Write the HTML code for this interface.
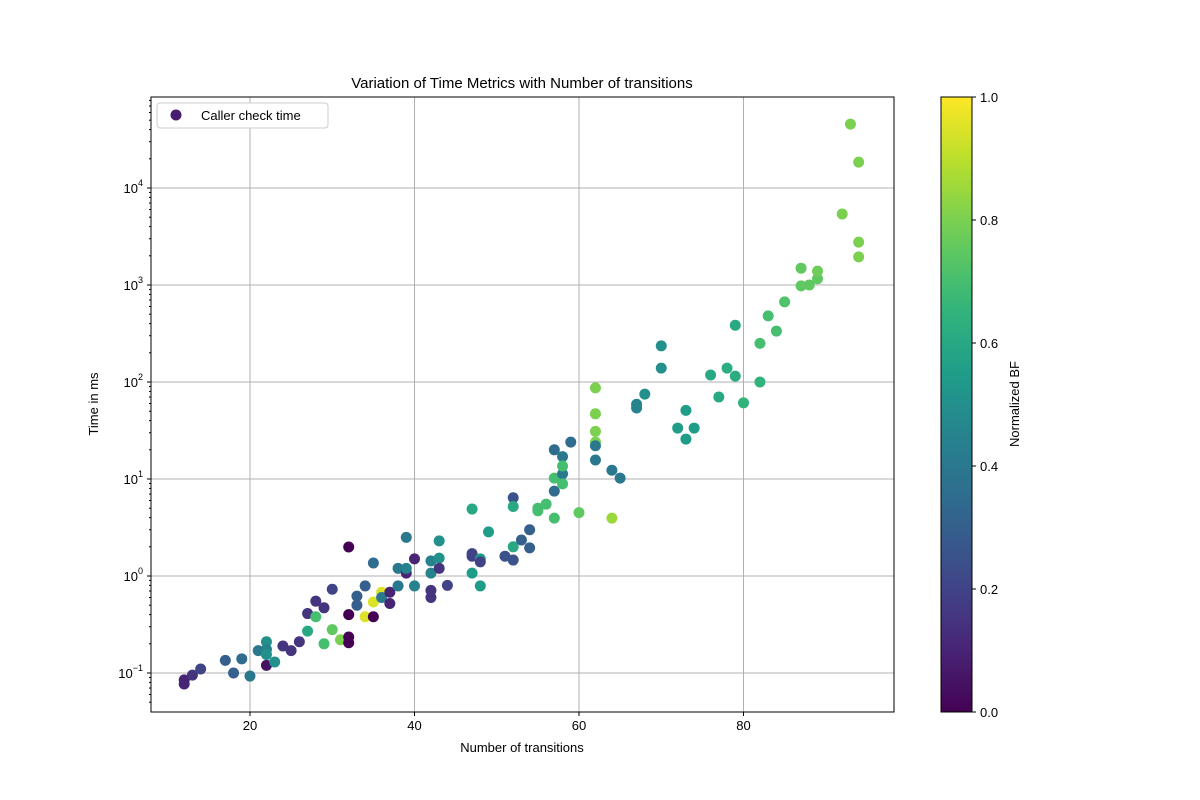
<!DOCTYPE html>
<html><head><meta charset="utf-8"><style>
body{margin:0;background:#fff;}
svg{display:block;font-family:"Liberation Sans","DejaVu Sans",sans-serif;}
</style></head><body>
<svg id="chart" width="1200" height="800"></svg>
<script>
const xs=[12,12,13,14,17,18,19,20,21,22,22,22,22,23,24,25,26,27,27,28,28,29,29,30,30,31,32,32,32,32,32,33,33,34,34,35,35,35,36,36,37,37,38,38,39,39,39,40,40,42,42,42,42,43,43,43,44,
47,47,47,47,48,48,48,49,51,52,52,52,52,53,54,54,55,55,56,57,57,57,57,58,58,58,58,59,60,62,62,62,62,62,62,64,64,65,
67,67,68,70,70,72,73,73,74,76,77,78,79,79,80,82,82,83,84,85,87,87,88,89,89,92,93,94,94,94];
const ys=[0.077,0.085,0.095,0.11,0.135,0.10,0.14,0.093,0.17,0.21,0.175,0.155,0.12,0.13,0.19,0.17,0.21,0.27,0.41,0.55,0.38,0.47,0.2,0.73,0.28,0.22,1.99,0.40,0.40,0.235,0.205,0.62,0.50,0.79,0.38,0.54,0.38,1.36,0.68,0.6,0.68,0.52,1.2,0.79,2.5,1.07,1.2,0.79,1.5,1.43,1.07,0.71,0.6,2.3,1.53,1.2,0.8,
4.9,1.6,1.7,1.07,1.5,1.4,0.79,2.85,1.6,6.4,5.2,2.0,1.46,2.35,3.0,1.95,5.0,4.7,5.5,20,7.5,10.2,3.95,17,11.3,13.6,8.9,24,4.5,87,47,31,24,22,15.7,12.3,3.95,10.2,
59,54,75,236,139,33.5,51,25.8,33.5,118,70,139,385,115,61,250,100,480,335,670,980,1490,1000,1160,1390,5400,45600,18500,2770,1950];
const cs=[0.1,0.1,0.15,0.2,0.3,0.3,0.35,0.4,0.4,0.5,0.45,0.5,0.05,0.5,0.15,0.15,0.15,0.6,0.15,0.15,0.7,0.15,0.7,0.2,0.75,0.8,0.0,0.8,0.0,0.0,0.0,0.3,0.3,0.3,0.95,0.95,0.0,0.35,0.95,0.4,0.1,0.1,0.4,0.4,0.4,0.1,0.45,0.45,0.1,0.45,0.45,0.15,0.15,0.5,0.5,0.15,0.2,
0.6,0.2,0.2,0.55,0.55,0.2,0.55,0.55,0.25,0.25,0.6,0.6,0.25,0.3,0.3,0.3,0.7,0.7,0.7,0.35,0.35,0.7,0.7,0.4,0.4,0.7,0.7,0.35,0.75,0.8,0.8,0.8,0.8,0.4,0.4,0.4,0.85,0.4,
0.45,0.45,0.5,0.5,0.5,0.55,0.55,0.55,0.55,0.6,0.6,0.62,0.6,0.62,0.65,0.7,0.65,0.7,0.7,0.72,0.75,0.75,0.75,0.75,0.78,0.8,0.8,0.8,0.8,0.8];
const xTicks=[20,40,60,80];
const yTicks=[-1,0,1,2,3,4];
const cTicks=[0,0.2,0.4,0.6,0.8,1.0];

const L=151,R=894,T=97,B=712;
const X=v=>85.5+v*8.225;
const Y=v=>576-97*Math.log10(v);
const vir=[[68,1,84],[72,40,120],[62,74,137],[49,104,142],[38,130,142],[31,158,137],[53,183,121],[109,205,89],[180,222,44],[253,231,37]];
function col(t){t=Math.max(0,Math.min(1,t))*9;const i=Math.min(8,Math.floor(t)),f=t-i;const a=vir[i],b=vir[i+1];return `rgb(${a.map((v,k)=>Math.round(v+(b[k]-v)*f)).join(',')})`;}
const svg=document.getElementById('chart');const NS='http://www.w3.org/2000/svg';
function mk(tag,at,txt){const e=document.createElementNS(NS,tag);for(const k in at)e.setAttribute(k,at[k]);if(txt!=null)e.textContent=txt;svg.appendChild(e);return e;}
let e;
// grid
xTicks.forEach(t=>{e=mk('line',{x1:X(t),x2:X(t),y1:T,y2:B,stroke:'#b0b0b0','stroke-width':1});


e=mk('line',{x1:X(t),x2:X(t),y1:B,y2:B+4,stroke:'#000'});


e=mk('text',{x:X(t),y:B+18,'text-anchor':'middle','font-size':13},String(t));

});
yTicks.forEach(p=>{const y=Y(Math.pow(10,p));e=mk('line',{x1:L,x2:R,y1:y,y2:y,stroke:'#b0b0b0','stroke-width':1});


e=mk('line',{x1:L-4,x2:L,y1:y,y2:y,stroke:'#000'});


const t=mk('text',{x:L-8,y:y+5,'text-anchor':'end','font-size':13});
t.innerHTML='10<tspan dy="-7" font-size="9">'+(p<0?'−'+(-p):p)+'</tspan>';


// minor ticks
for(let m=2;m<10;m++){const yy=Y(m*Math.pow(10,p));if(yy>T&&yy<B){e=mk('line',{x1:L-2,x2:L,y1:yy,y2:yy,stroke:'#000'});

}}});
for(let m=5;m<10;m++){const yy=Y(m*0.01);if(yy<B){e=mk('line',{x1:L-2,x2:L,y1:yy,y2:yy,stroke:'#000'});

}}
// points
xs.forEach((x,i)=>{e=mk('circle',{cx:X(x),cy:Y(ys[i]),r:5.5,fill:col(cs[i])});

});
e=mk('rect',{x:L,y:T,width:R-L,height:B-T,fill:'none',stroke:'#000','stroke-width':1});


// labels
e=mk('text',{x:522,y:88,'text-anchor':'middle','font-size':15},'Variation of Time Metrics with Number of transitions');


e=mk('text',{x:522,y:752,'text-anchor':'middle','font-size':13},'Number of transitions');


e=mk('text',{x:98,y:404,'text-anchor':'middle','font-size':13,transform:'rotate(-90 98 404)'},'Time in ms');


// legend
e=mk('rect',{x:157,y:103,width:171,height:25,rx:3,fill:'#fff',stroke:'#ccc'});


e=mk('circle',{cx:176,cy:115,r:5.5,fill:'#481c6e'});


e=mk('text',{x:201,y:120,'font-size':13},'Caller check time');


// colorbar
const defs=mk('defs',{});const g=document.createElementNS(NS,'linearGradient');g.setAttribute('id','vg');g.setAttribute('x1','0');g.setAttribute('y1','1');g.setAttribute('x2','0');g.setAttribute('y2','0');defs.appendChild(g);
for(let i=0;i<=20;i++){const s=document.createElementNS(NS,'stop');s.setAttribute('offset',i/20);s.setAttribute('stop-color',col(i/20));g.appendChild(s);}
e=mk('rect',{x:941,y:T,width:31,height:B-T,fill:'url(#vg)',stroke:'#000','stroke-width':1});


cTicks.forEach(t=>{const y=B-t*(B-T);e=mk('line',{x1:972,x2:976,y1:y,y2:y,stroke:'#000'});


e=mk('text',{x:980,y:y+5,'font-size':13},t.toFixed(1));

});
e=mk('text',{x:1019,y:404,'text-anchor':'middle','font-size':13,transform:'rotate(-90 1019 404)'},'Normalized BF');


</script>
</body></html>
